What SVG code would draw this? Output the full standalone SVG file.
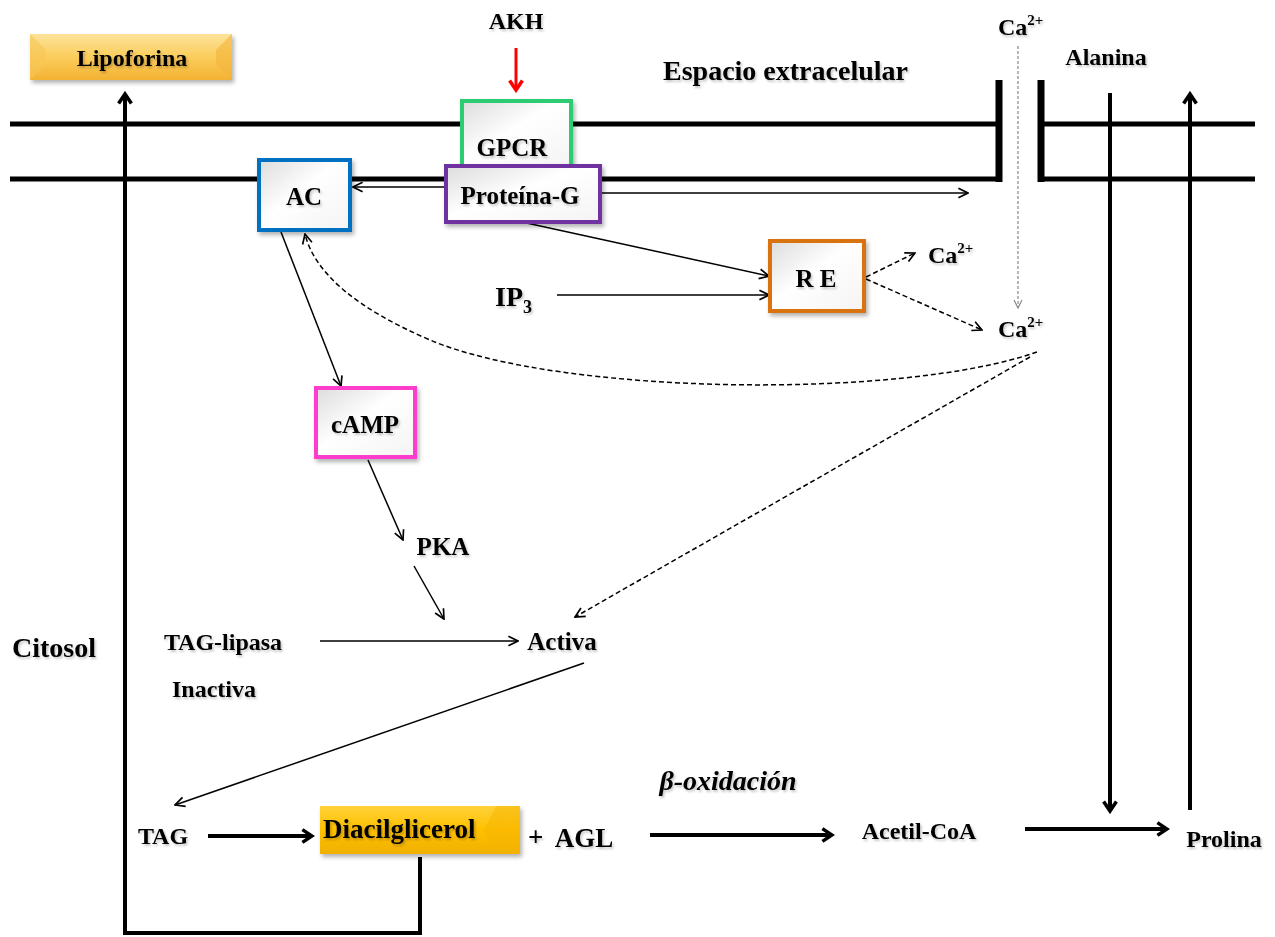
<svg xmlns="http://www.w3.org/2000/svg" width="1275" height="937" viewBox="0 0 1275 937">
<defs>
<style>
text{font-family:"Liberation Serif","Times New Roman",serif;font-weight:bold;fill:#000;filter:url(#tsh)}
.t24{font-size:24px}
.t25{font-size:25px}
.t27{font-size:27px}
.t28{font-size:28px}
.sup{font-size:15px}
.mem{stroke:#000;stroke-width:5;fill:none}
.thin{stroke:#000;stroke-width:1.5;fill:none}
.thick{stroke:#000;stroke-width:4;fill:none}
.dash{stroke:#000;stroke-width:1.5;fill:none;stroke-dasharray:5,3}
.box{stroke-width:4}
</style>
<linearGradient id="wg" x1="0" y1="0" x2="1" y2="1">
<stop offset="0" stop-color="#dcdcdc"/><stop offset="0.45" stop-color="#ffffff"/><stop offset="1" stop-color="#f4f4f4"/>
</linearGradient>
<linearGradient id="gold1" x1="0" y1="0" x2="0" y2="1">
<stop offset="0" stop-color="#fde39a"/><stop offset="0.5" stop-color="#fbcd5c"/><stop offset="1" stop-color="#f3b232"/>
</linearGradient>
<linearGradient id="gold2" x1="0" y1="0" x2="0" y2="1">
<stop offset="0" stop-color="#ffd23a"/><stop offset="0.5" stop-color="#ffc000"/><stop offset="1" stop-color="#f0b000"/>
</linearGradient>
<filter id="sh" x="-10%" y="-10%" width="130%" height="140%">
<feDropShadow dx="2" dy="3" stdDeviation="2" flood-color="#000" flood-opacity="0.3"/>
</filter>
<filter id="tsh" x="-10%" y="-20%" width="130%" height="150%">
<feDropShadow dx="1.5" dy="2" stdDeviation="1" flood-color="#000" flood-opacity="0.22"/>
</filter>
<marker id="ao" viewBox="0 0 10 10" refX="9" refY="5" markerWidth="12" markerHeight="12" markerUnits="userSpaceOnUse" orient="auto">
<path d="M1,1 L9,5 L1,9" fill="none" stroke="#000" stroke-width="1.4"/>
</marker>
<marker id="aog" viewBox="0 0 10 10" refX="9" refY="5" markerWidth="10" markerHeight="10" markerUnits="userSpaceOnUse" orient="auto">
<path d="M1,1 L9,5 L1,9" fill="none" stroke="#888" stroke-width="1.2"/>
</marker>
<marker id="at" viewBox="0 0 10 10" refX="8" refY="5" markerWidth="16" markerHeight="16" markerUnits="userSpaceOnUse" orient="auto">
<path d="M2,1 L8,5 L2,9" fill="none" stroke="#000" stroke-width="2.2"/>
</marker>
<marker id="ar" viewBox="0 0 10 10" refX="8" refY="5" markerWidth="16" markerHeight="16" markerUnits="userSpaceOnUse" orient="auto">
<path d="M2,1 L8,5 L2,9" fill="none" stroke="#ff0000" stroke-width="2.2"/>
</marker>
</defs>
<rect width="1275" height="937" fill="#fff"/>

<g id="membrane">
<line class="mem" x1="10" y1="124" x2="999" y2="124"/>
<line class="mem" x1="1041" y1="124" x2="1255" y2="124"/>
<line class="mem" x1="10" y1="179" x2="999" y2="179"/>
<line class="mem" x1="1041" y1="179" x2="1255" y2="179"/>
<line stroke="#000" stroke-width="7" x1="999" y1="80" x2="999" y2="182"/>
<line stroke="#000" stroke-width="7" x1="1041" y1="80" x2="1041" y2="182"/>
</g>

<g id="connectors">
<line x1="516" y1="48" x2="516" y2="90" stroke="#ff0000" stroke-width="3" marker-end="url(#ar)"/>
<line class="thin" x1="445" y1="187" x2="353" y2="187" marker-end="url(#ao)"/>
<line class="thin" x1="600" y1="193" x2="968" y2="193" marker-end="url(#ao)"/>
<line class="thin" x1="522" y1="222" x2="769" y2="276" marker-end="url(#ao)"/>
<line class="thin" x1="557" y1="295" x2="769" y2="295" marker-end="url(#ao)"/>
<line class="dash" x1="866" y1="277" x2="915" y2="253" marker-end="url(#ao)"/>
<line class="dash" x1="866" y1="279" x2="982" y2="330" marker-end="url(#ao)"/>
<line x1="1018" y1="46" x2="1018" y2="308" stroke="#888" stroke-width="1.2" stroke-dasharray="3,2" marker-end="url(#aog)"/>
<path class="dash" d="M1037,352 C900,400 560,395 430,340 C360,310 315,275 305,234" marker-end="url(#ao)"/>
<line class="dash" x1="1030" y1="357" x2="575" y2="617" marker-end="url(#ao)"/>
<line class="thin" x1="281" y1="232" x2="341" y2="386" marker-end="url(#ao)"/>
<line class="thin" x1="368" y1="460" x2="403" y2="540" marker-end="url(#ao)"/>
<line class="thin" x1="414" y1="566" x2="444" y2="619" marker-end="url(#ao)"/>
<line class="thin" x1="320" y1="641" x2="518" y2="641" marker-end="url(#ao)"/>
<line class="thin" x1="584" y1="663" x2="175" y2="805" marker-end="url(#ao)"/>
<line class="thick" x1="208" y1="836" x2="312" y2="836" marker-end="url(#at)"/>
<line class="thick" x1="650" y1="835" x2="832" y2="835" marker-end="url(#at)"/>
<line class="thick" x1="1025" y1="829" x2="1167" y2="829" marker-end="url(#at)"/>
<line class="thick" x1="1110" y1="93" x2="1110" y2="811" marker-end="url(#at)"/>
<line class="thick" x1="1190" y1="810" x2="1190" y2="94" marker-end="url(#at)"/>
<polyline class="thick" points="420,857 420,933 125,933 125,94" marker-end="url(#at)"/>
</g>

<g id="lipoforina">
<rect x="30" y="34" width="202" height="46" fill="url(#gold1)" filter="url(#sh)"/>
<polygon points="30,34 46,50 46,64 30,80" fill="#f6c657" opacity="0.6"/>
<polygon points="232,34 216,50 216,64 232,80" fill="#f1b43a" opacity="0.6"/>
<text class="t24" x="132" y="66" text-anchor="middle">Lipoforina</text>
</g>

<g id="akh"><text class="t24" x="516" y="29" text-anchor="middle">AKH</text></g>
<g id="espacio"><text class="t28" x="663" y="80">Espacio extracelular</text></g>
<g id="ca-top"><text class="t24" x="998" y="35">Ca<tspan class="sup" dy="-10">2+</tspan></text></g>
<g id="alanina"><text class="t24" x="1106" y="65" text-anchor="middle">Alanina</text></g>

<g id="gpcr">
<rect class="box" x="462" y="101" width="109" height="66" fill="url(#wg)" stroke="#2ecc71" stroke-width="3" filter="url(#sh)"/>
<text class="t25" x="512" y="156" text-anchor="middle">GPCR</text>
</g>

<g id="proteina-g">
<rect class="box" x="446" y="166" width="154" height="56" fill="url(#wg)" stroke="#7030a0" filter="url(#sh)"/>
<text class="t25" x="520" y="204" text-anchor="middle">Proteína-G</text>
</g>

<g id="ac">
<rect class="box" x="259" y="160" width="91" height="70" fill="url(#wg)" stroke="#0070c0" filter="url(#sh)"/>
<text class="t25" x="304" y="205" text-anchor="middle">AC</text>
</g>

<g id="re">
<rect class="box" x="770" y="241" width="94" height="70" fill="url(#wg)" stroke="#d9730d" filter="url(#sh)"/>
<text class="t25" x="816" y="287" text-anchor="middle">R E</text>
</g>

<g id="ip3"><text class="t28" x="495" y="306">IP<tspan font-size="18" dy="7">3</tspan></text></g>
<g id="ca-re"><text class="t24" x="928" y="263">Ca<tspan class="sup" dy="-10">2+</tspan></text></g>
<g id="ca-mid"><text class="t24" x="998" y="337">Ca<tspan class="sup" dy="-10">2+</tspan></text></g>

<g id="camp">
<rect class="box" x="316" y="388" width="99" height="69" fill="url(#wg)" stroke="#ff3dcc" filter="url(#sh)"/>
<text class="t25" x="365" y="433" text-anchor="middle">cAMP</text>
</g>

<g id="pka"><text class="t25" x="443" y="555" text-anchor="middle">PKA</text></g>
<g id="citosol"><text class="t28" x="12" y="657">Citosol</text></g>
<g id="tag-lipasa"><text class="t24" x="223" y="650" text-anchor="middle">TAG-lipasa</text></g>
<g id="inactiva"><text class="t24" x="214" y="697" text-anchor="middle">Inactiva</text></g>
<g id="activa"><text class="t25" x="562" y="650" text-anchor="middle">Activa</text></g>
<g id="tag"><text class="t24" x="163" y="844" text-anchor="middle">TAG</text></g>

<g id="diacilglicerol">
<rect x="320" y="806" width="200" height="48" fill="url(#gold2)" filter="url(#sh)"/>
<polygon points="496,806 520,806 520,854 496,854 484,830" fill="#f5b400" opacity="0.5"/>
<text class="t27" x="323" y="838">Diacilglicerol</text>
</g>

<g id="agl"><text class="t27" x="528" y="846">+</text><text class="t27" x="584" y="847" text-anchor="middle">AGL</text></g>
<g id="beta"><text class="t28" x="728" y="790" text-anchor="middle" font-style="italic">β-oxidación</text></g>
<g id="acetil"><text class="t24" x="919" y="839" text-anchor="middle">Acetil-CoA</text></g>
<g id="prolina"><text class="t24" x="1224" y="847" text-anchor="middle">Prolina</text></g>
</svg>
